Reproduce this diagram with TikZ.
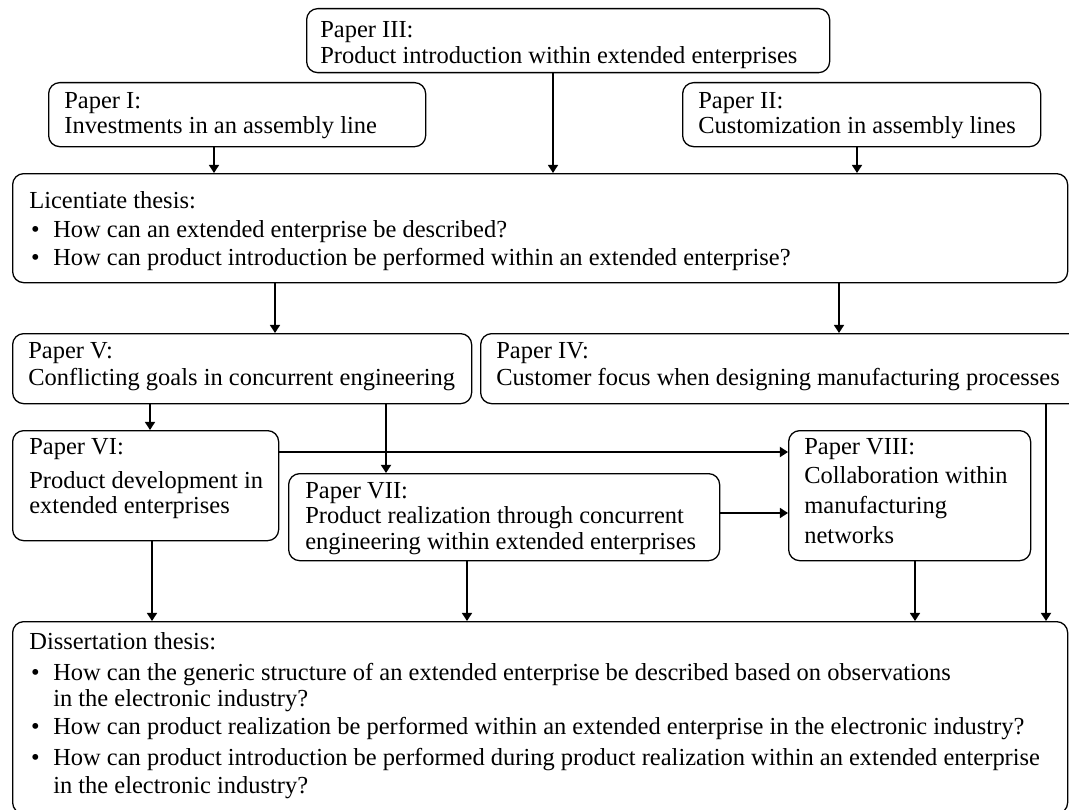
\documentclass[tikz,border=0pt]{standalone}
\usepackage{fontspec}
\setmainfont{Liberation Serif}
\usetikzlibrary{arrows.meta}
% one drawing unit, used for node sizes
\newcommand{\pxu}{0.5435pt}
% a bullet list item and its continuation line
\newcommand{\itm}{\hspace{1pt}\makebox[12pt][l]{\textbullet}}
\newcommand{\cnt}{\hspace{13pt}}

\begin{document}
\begin{tikzpicture}[x=0.5435pt,y=-0.5435pt,
  box/.style={draw, line width=0.7pt, rounded corners=6pt, anchor=north west, inner sep=0pt},
  txt/.style={anchor=base west, inner sep=0pt, font=\fontsize{13.3}{13.9}\selectfont},
  arr/.style={line width=1pt, -{Triangle[length=4.4pt,width=5.4pt]}},
  thickarr/.style={arr, line width=1.4pt}]
\useasboundingbox (0,0) rectangle (1069,809);
\clip (0,0) rectangle (1069,809);

% ---- boxes ----
\node[box, minimum width=523*\pxu, minimum height=64*\pxu]  (p3)   at (306,8)   {};
\node[box, minimum width=377*\pxu, minimum height=64*\pxu]  (p1)   at (48,82)   {};
\node[box, minimum width=358*\pxu, minimum height=64*\pxu]  (p2)   at (682,82)  {};
\node[box, minimum width=1055*\pxu, minimum height=109*\pxu] (lic) at (12,173)  {};
\node[box, minimum width=459*\pxu, minimum height=70*\pxu]  (p5)   at (12,333)  {};
\node[box, minimum width=620*\pxu, minimum height=70*\pxu]  (p4)   at (480,333) {};
\node[box, minimum width=266*\pxu, minimum height=110*\pxu] (p6)   at (12,430)  {};
\node[box, minimum width=431*\pxu, minimum height=87*\pxu]  (p7)   at (288,473) {};
\node[box, minimum width=242*\pxu, minimum height=130*\pxu] (p8)   at (788,430) {};
\node[box, minimum width=1055*\pxu, minimum height=192*\pxu] (diss) at (12,621) {};

% ---- texts ----
\node[txt] (t3) at ([shift={(14,30)}]p3.north west)
  {\begin{tabular}[t]{@{}l@{}}Paper III:\\Product introduction within extended enterprises\end{tabular}};
\node[txt] (t1) at ([shift={(16,26)}]p1.north west)
  {\begin{tabular}[t]{@{}l@{}}Paper I:\\Investments in an assembly line\end{tabular}};
\node[txt] (t2) at ([shift={(16,26)}]p2.north west)
  {\begin{tabular}[t]{@{}l@{}}Paper II:\\Customization in assembly lines\end{tabular}};
\node[txt] (tlic) at ([shift={(17,35)}]lic.north west)
  {\begin{tabular}[t]{@{}l@{}}Licentiate thesis:\\[2.4pt]
   \itm How can an extended enterprise be described?\\[1.2pt]
   \itm How can product introduction be performed within an extended enterprise?\end{tabular}};
\node[txt] (t5) at ([shift={(16,25)}]p5.north west)
  {\begin{tabular}[t]{@{}l@{}}Paper V:\\[0.8pt]Conflicting goals in concurrent engineering\end{tabular}};
\node[txt] (t4) at ([shift={(16,25)}]p4.north west)
  {\begin{tabular}[t]{@{}l@{}}Paper IV:\\[0.8pt]Customer focus when designing manufacturing processes\end{tabular}};
\node[txt] (t6) at ([shift={(17,24)}]p6.north west)
  {\begin{tabular}[t]{@{}l@{}}Paper VI:\\[4.6pt]Product development in\\extended enterprises\end{tabular}};
\node[txt] (t7) at ([shift={(17,25)}]p7.north west)
  {\begin{tabular}[t]{@{}l@{}}Paper VII:\\Product realization through concurrent\\engineering within extended enterprises\end{tabular}};
\node[txt] (t8) at ([shift={(16,24)}]p8.north west)
  {\begin{tabular}[t]{@{}l@{}}Paper VIII:\\[2.4pt]Collaboration within\\[2.4pt]manufacturing\\[2.4pt]networks\end{tabular}};
\node[txt] (tdiss) at ([shift={(17,28)}]diss.north west)
  {\begin{tabular}[t]{@{}l@{}}Dissertation thesis:\\[3.4pt]
   \itm How can the generic structure of an extended enterprise be described based on observations\\
   \cnt in the electronic industry?\\[1.3pt]
   \itm How can product realization be performed within an extended enterprise in the electronic industry?\\[3.2pt]
   \itm How can product introduction be performed during product realization within an extended enterprise\\[1.3pt]
   \cnt in the electronic industry?\end{tabular}};

% ---- connectors ----
\draw[arr] (214,0 |- p1.south) -- (214,0 |- lic.north);
\draw[arr] (553,0 |- p3.south) -- (553,0 |- lic.north);
\draw[arr] (857,0 |- p2.south) -- (857,0 |- lic.north);
\draw[arr] (275,0 |- lic.south) -- (275,0 |- p5.north);
\draw[arr] (839,0 |- lic.south) -- (839,0 |- p4.north);
\draw[arr] (150,0 |- p5.south) -- (150,0 |- p6.north);
\draw[thickarr] (386,0 |- p5.south) -- (386,0 |- p7.north);
\draw[arr, line width=1.2pt] (0,452 -| p6.east) -- (0,452 -| p8.west);
\draw[arr] (0,513 -| p7.east) -- (0,513 -| p8.west);
\draw[arr] (152,0 |- p6.south) -- (152,0 |- diss.north);
\draw[arr] (467,0 |- p7.south) -- (467,0 |- diss.north);
\draw[arr] (915,0 |- p8.south) -- (915,0 |- diss.north);
\draw[thickarr] (1046,0 |- p4.south) -- (1046,0 |- diss.north);
\end{tikzpicture}
\end{document}
